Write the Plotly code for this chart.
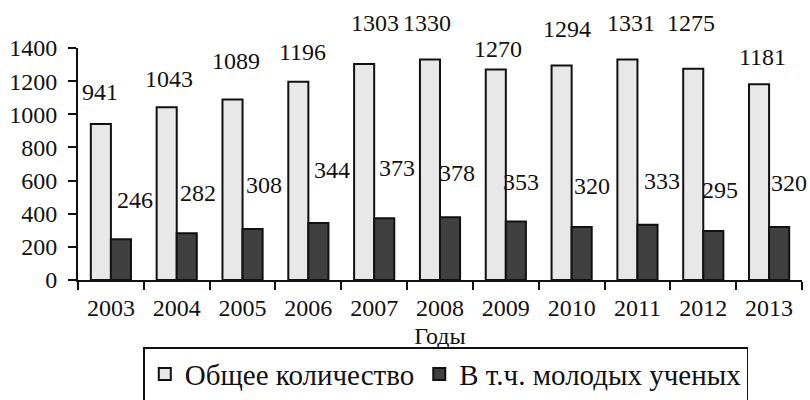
import plotly.graph_objects as go

years = ["2003", "2004", "2005", "2006", "2007", "2008", "2009", "2010", "2011", "2012", "2013"]
total = [941, 1043, 1089, 1196, 1303, 1330, 1270, 1294, 1331, 1275, 1181]
young = [246, 282, 308, 344, 373, 378, 353, 320, 333, 295, 320]
y_ticks = [0, 200, 400, 600, 800, 1000, 1200, 1400]

# label placement offsets (pixels), as hand-placed in the original
total_lbl_dx = [-11, -8, -7, -6, 1, -13, -8, -5, -6, -12, -7]
total_lbl_dy = [32, 28, 39, 30, 41, 37, 21, 37, 36, 46, 27]
young_lbl_dx = [24, 21, 21, 24, 23, 17, 15, 20, 25, 17, 20]
young_lbl_dy = [39, 40, 44, 53, 50, 44, 40, 41, 44, 41, 44]

FONT = "Liberation Serif"
FS = 24

fig = go.Figure()
fig.add_trace(go.Bar(
    x=years, y=total, name="Общее количество",
    marker=dict(color="#e8e8e8", line=dict(color="#111111", width=2)),
))
fig.add_trace(go.Bar(
    x=years, y=young, name="В т.ч. молодых ученых",
    marker=dict(color="#404040", line=dict(color="#111111", width=2)),
))

annotations = []
for i, v in enumerate(total):
    annotations.append(dict(x=i, y=v, text=str(v), showarrow=False, xref="x", yref="y",
                            xshift=total_lbl_dx[i], yshift=total_lbl_dy[i], yanchor="middle",
                            font=dict(family=FONT, size=FS, color="#111111")))
for i, v in enumerate(young):
    annotations.append(dict(x=i, y=v, text=str(v), showarrow=False, xref="x", yref="y",
                            xshift=young_lbl_dx[i], yshift=young_lbl_dy[i], yanchor="middle",
                            font=dict(family=FONT, size=FS, color="#111111")))

fig.update_layout(
    width=810, height=400,
    margin=dict(l=78, r=8, t=48, b=120, autoexpand=False),
    paper_bgcolor="white", plot_bgcolor="white",
    barmode="group", bargap=0.39, bargroupgap=0,
    font=dict(family=FONT, size=FS, color="#111111"),
    showlegend=True,
    legend=dict(orientation="h", x=0.508, xanchor="center", y=-0.289, yanchor="top",
                bordercolor="#111111", borderwidth=1.5, bgcolor="white",
                font=dict(family=FONT, size=29, color="#111111"),
                traceorder="normal"),
    annotations=annotations,
    xaxis=dict(
        type="category", range=[-0.5, len(years) - 0.5], tickangle=0,
        showgrid=False, showline=True, linecolor="#111111", linewidth=2,
        ticks="outside", tickson="boundaries", ticklen=8, tickwidth=2, tickcolor="#111111",
        ticklabelstandoff=5,
        title=dict(text="Годы", standoff=7, font=dict(family=FONT, size=FS)),
        automargin=False,
    ),
    yaxis=dict(
        range=[0, 1400], tickvals=y_ticks, showgrid=False, zeroline=False,
        showline=True, linecolor="#111111", linewidth=2,
        ticks="outside", ticklen=8, tickwidth=2, tickcolor="#111111",
        ticklabelstandoff=6, automargin=False,
    ),
)

fig.write_html("out.html", config={"displayModeBar": False},
               post_script="document.body.style.margin='0px';")
